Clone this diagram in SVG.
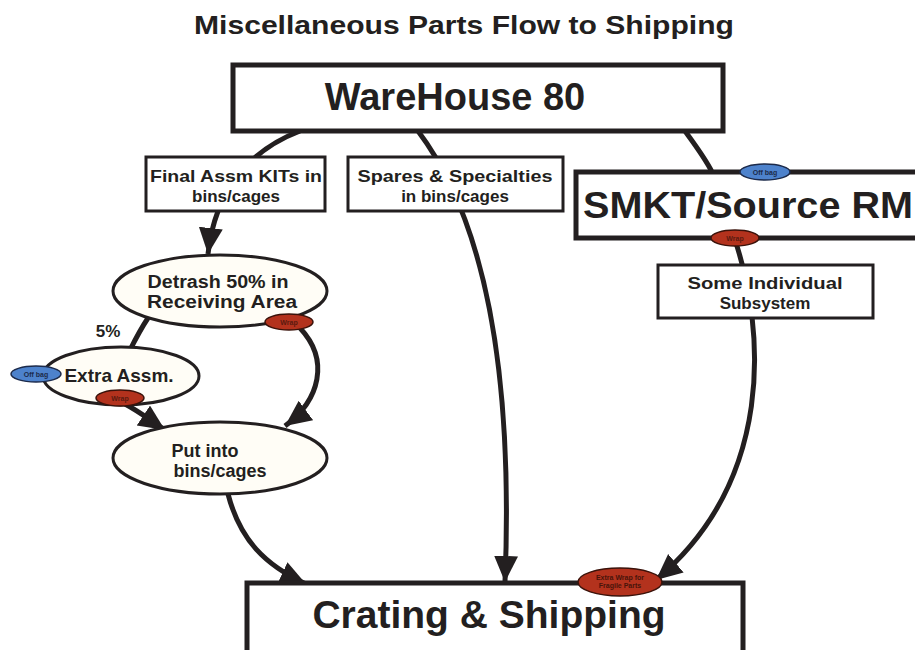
<svg xmlns="http://www.w3.org/2000/svg" width="915" height="650" viewBox="0 0 915 650">
<defs>
<style>
.t{font-family:"Liberation Sans",Arial,sans-serif;font-weight:bold;fill:#231f20;text-anchor:middle}
.box{fill:#fff;stroke:#231f20;stroke-width:3}
.bigbox{fill:#fff;stroke:#231f20;stroke-width:5}
.ell{fill:#fffdf6;stroke:#231f20;stroke-width:3}
.c{fill:none;stroke:#231f20;stroke-width:5}
.blue{fill:#4d82cc;stroke:#1c2a4a;stroke-width:1.5}
.red{fill:#b3321d;stroke:#3a120a;stroke-width:1.5}
.bt{font-family:"Liberation Sans",Arial,sans-serif;font-weight:bold;text-anchor:middle;font-size:7px}
</style>
<marker id="ah" markerUnits="userSpaceOnUse" markerWidth="30" markerHeight="30" refX="26" refY="12" orient="auto">
<path d="M0,0 L26,12 L0,24 Z" fill="#231f20"/>
</marker>
</defs>
<rect width="915" height="650" fill="#fff"/>
<text class="t" x="464" y="34" font-size="26" textLength="540" lengthAdjust="spacingAndGlyphs">Miscellaneous Parts Flow to Shipping</text>

<g id="connectors">
<path class="c" d="M300,131 C250,150 215,190 208,254" marker-end="url(#ah)"/>
<path class="c" d="M418,131 C470,200 515,330 505,582" marker-end="url(#ah)"/>
<path class="c" d="M685,131 C695,145 705,158 712,172"/>
<path class="c" d="M735,240 C765,330 775,480 656,580" marker-end="url(#ah)"/>
<path class="c" d="M148,318 C140,330 135,340 130,350"/>
<path class="c" d="M300,328 C330,360 320,400 285,426" marker-end="url(#ah)"/>
<path class="c" d="M125,404 C140,412 150,420 165,430" marker-end="url(#ah)"/>
<path class="c" d="M228,494 C240,540 265,565 306,584" marker-end="url(#ah)"/>
</g>

<g id="warehouse80">
<rect class="bigbox" x="233" y="65" width="490" height="66"/>
<text class="t" x="455" y="110" font-size="38">WareHouse 80</text>
</g>

<g id="final-assm">
<rect class="box" x="146" y="157" width="179" height="54"/>
<text class="t" x="236" y="182" font-size="17" textLength="172" lengthAdjust="spacingAndGlyphs">Final Assm KITs in</text>
<text class="t" x="236" y="202" font-size="17">bins/cages</text>
</g>

<g id="spares">
<rect class="box" x="348" y="157" width="215" height="54"/>
<text class="t" x="455" y="182" font-size="17" textLength="195" lengthAdjust="spacingAndGlyphs">Spares &amp; Specialties</text>
<text class="t" x="455" y="202" font-size="17">in bins/cages</text>
</g>

<g id="smkt">
<rect class="bigbox" x="576" y="172" width="360" height="66"/>
<text class="t" x="748" y="218" font-size="37" textLength="330" lengthAdjust="spacingAndGlyphs">SMKT/Source RM</text>
<ellipse class="blue" cx="765" cy="172" rx="25" ry="8"/>
<text class="bt" x="765" y="174.5" fill="#1c2a4a">Off bag</text>
<ellipse class="red" cx="735" cy="238" rx="24" ry="8"/>
<text class="bt" x="735" y="240.5" fill="#5a1a10">Wrap</text>
</g>

<g id="subsystem">
<rect class="box" x="658" y="265" width="215" height="53"/>
<text class="t" x="765" y="289" font-size="17" textLength="155" lengthAdjust="spacingAndGlyphs">Some Individual</text>
<text class="t" x="765" y="309" font-size="17">Subsystem</text>
</g>

<g id="detrash">
<ellipse class="ell" cx="220" cy="291" rx="107" ry="36"/>
<text class="t" x="218" y="288" font-size="18" textLength="141" lengthAdjust="spacingAndGlyphs">Detrash 50% in</text>
<text class="t" x="222" y="308" font-size="18" textLength="150" lengthAdjust="spacingAndGlyphs">Receiving Area</text>
<ellipse class="red" cx="289" cy="322" rx="24" ry="8"/>
<text class="bt" x="289" y="324.5" fill="#5a1a10">Wrap</text>
</g>

<text class="t" x="108" y="337" font-size="17">5%</text>

<g id="extra-assm">
<ellipse class="ell" cx="121" cy="376" rx="78" ry="29"/>
<text class="t" x="119" y="382" font-size="19">Extra Assm.</text>
<ellipse class="blue" cx="36" cy="374" rx="25" ry="8"/>
<text class="bt" x="36" y="376.5" fill="#1c2a4a">Off bag</text>
<ellipse class="red" cx="120" cy="398" rx="24" ry="8"/>
<text class="bt" x="120" y="400.5" fill="#5a1a10">Wrap</text>
</g>

<g id="put-into">
<ellipse class="ell" cx="220" cy="458" rx="107" ry="36"/>
<text class="t" x="205" y="457" font-size="18">Put into</text>
<text class="t" x="220" y="477" font-size="18">bins/cages</text>
</g>

<g id="crating">
<rect class="bigbox" x="247" y="583" width="496" height="80"/>
<text class="t" x="489" y="628" font-size="39">Crating &amp; Shipping</text>
<ellipse class="red" cx="620" cy="582" rx="42" ry="14"/>
<text class="bt" x="620" y="580" font-size="7" fill="#4a140a">Extra Wrap for</text>
<text class="bt" x="620" y="588" font-size="7" fill="#4a140a">Fragile Parts</text>
</g>
</svg>
